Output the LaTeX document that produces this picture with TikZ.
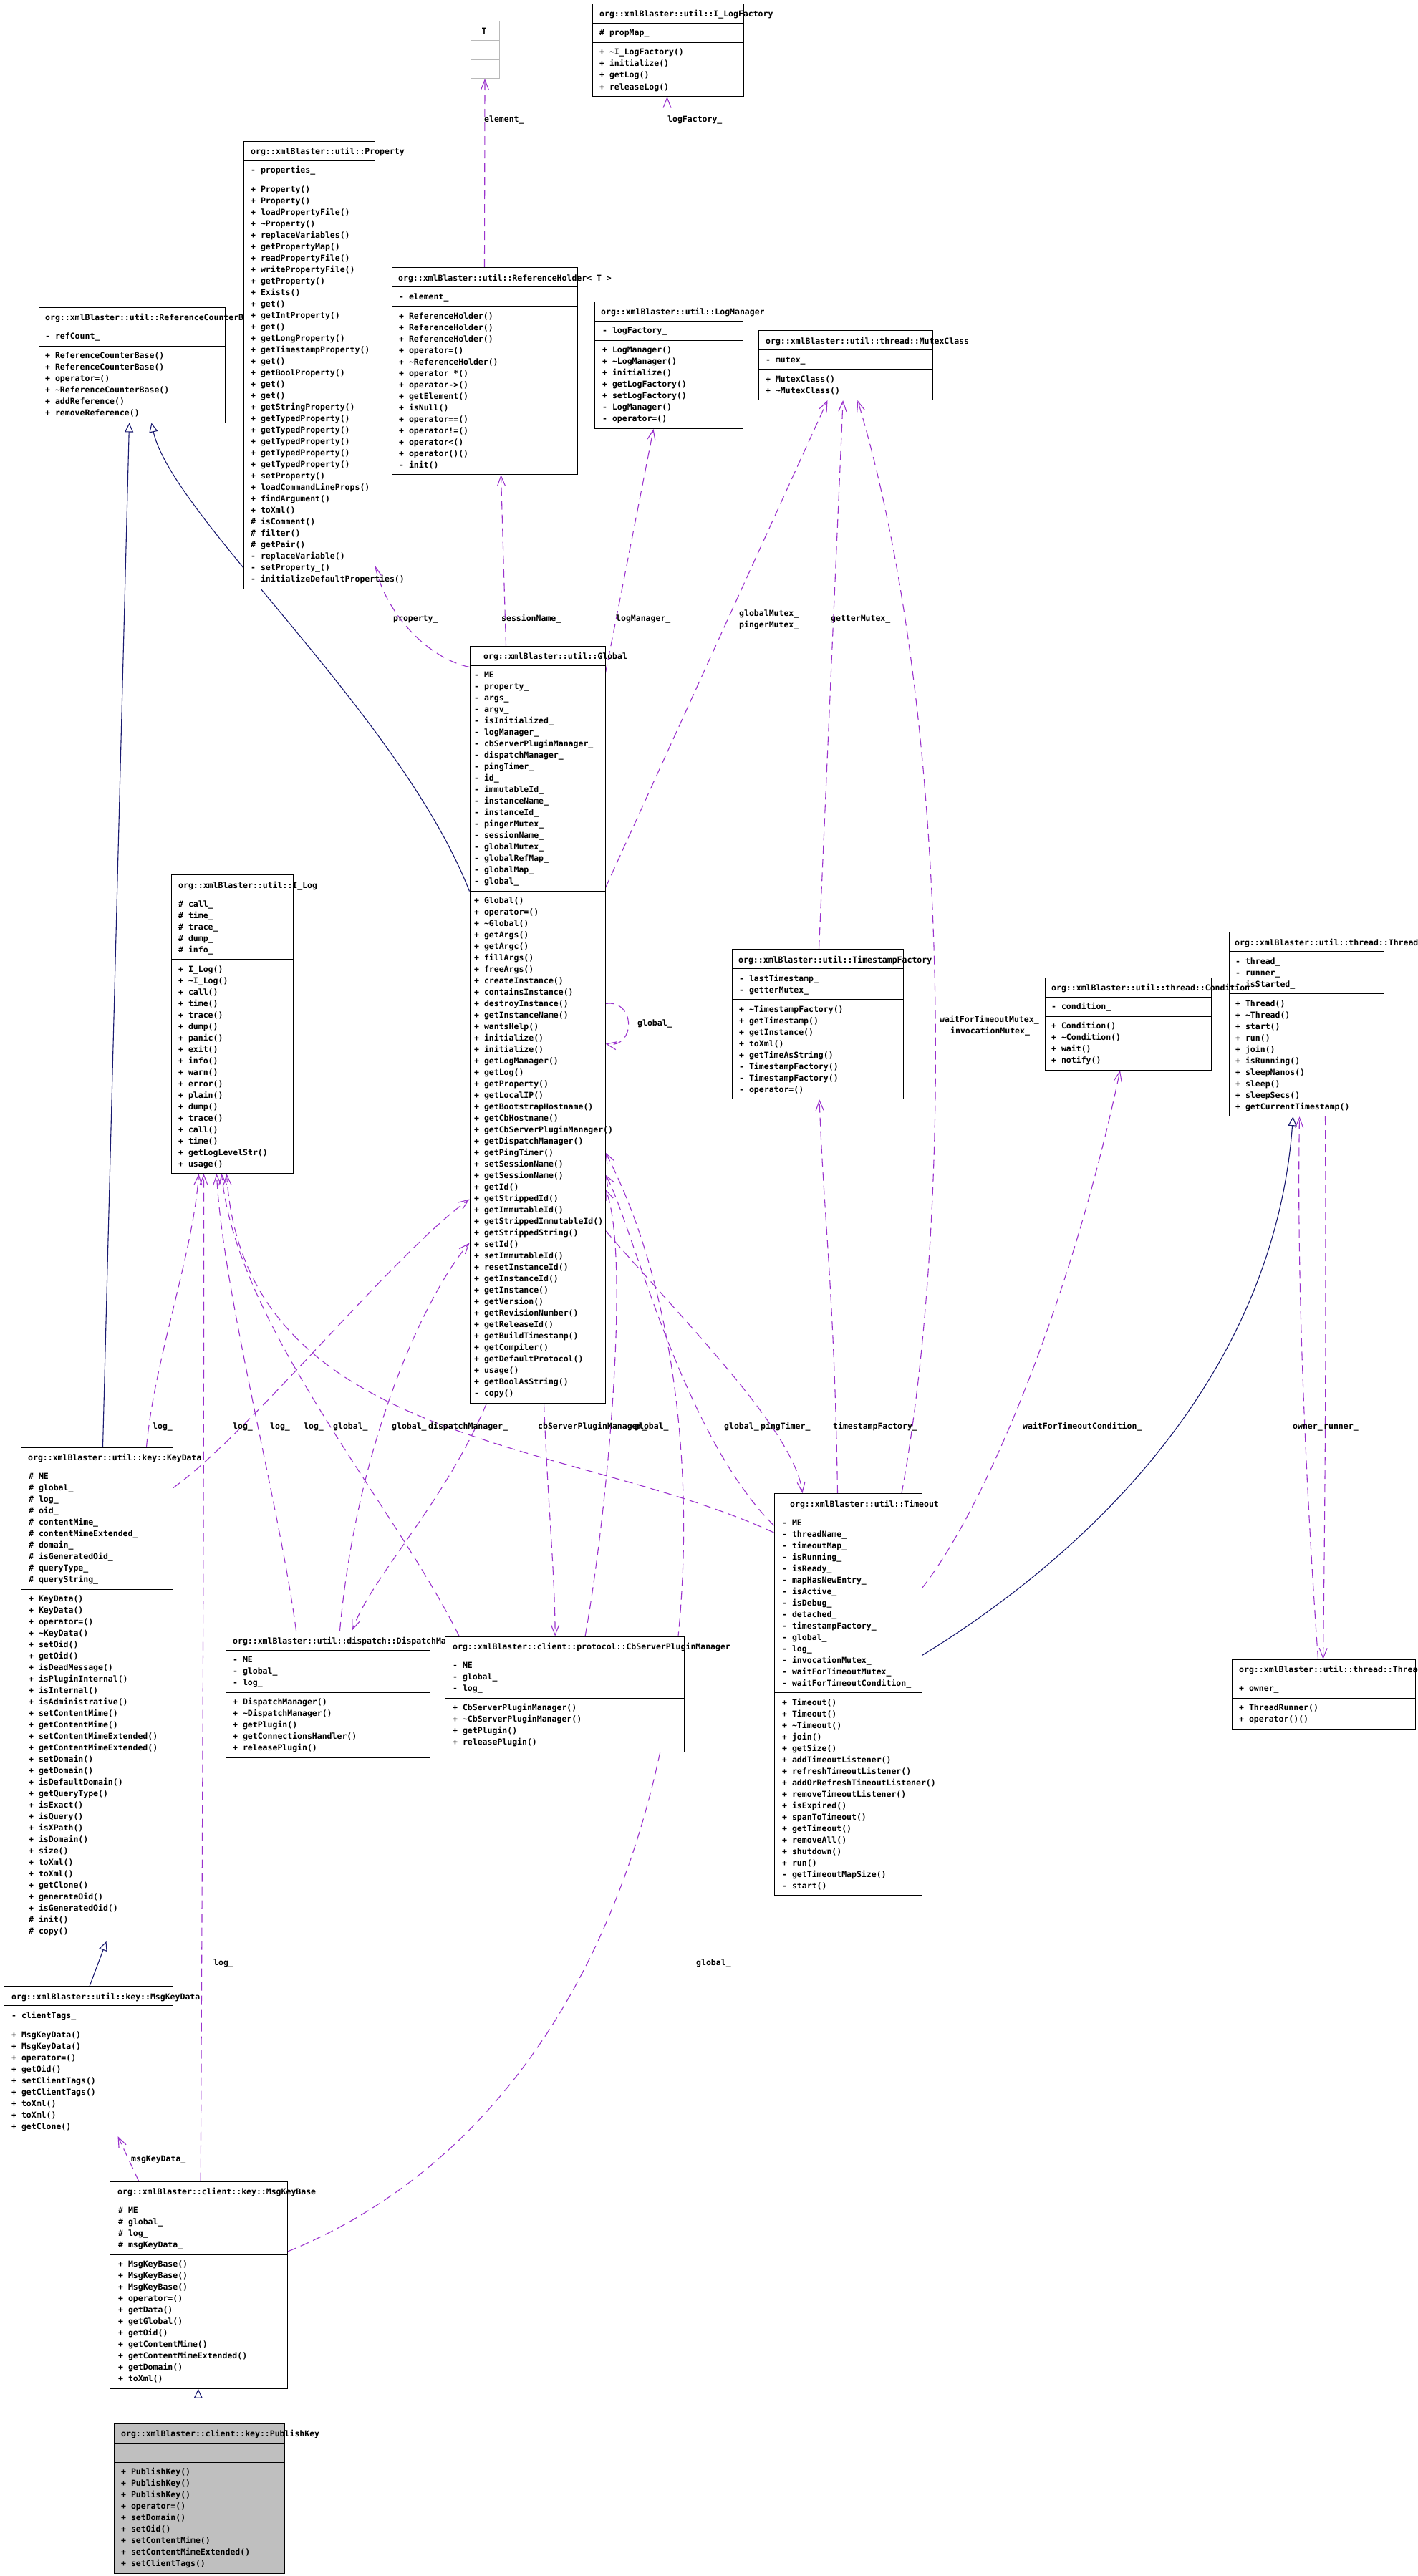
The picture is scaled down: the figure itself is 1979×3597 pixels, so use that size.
\documentclass[tikz,border=0pt]{standalone}
\usepackage{fontspec}
\newfontfamily\umlfont{DejaVu Sans Mono}
\usetikzlibrary{arrows.meta,fit,backgrounds}
\definecolor{usage}{HTML}{9A32CD}
\definecolor{inh}{HTML}{191970}
\definecolor{pkfill}{HTML}{BFBFBF}
\newcommand\tild{\textasciitilde}
\tikzset{
  umlbox/.style={draw=black,line width=1pt,inner sep=0pt,fill=white},
  sepline/.style={draw=black,line width=1pt},
  mtext/.style={anchor=west,inner sep=0pt,text height=8pt,text depth=0pt,
    font=\umlfont\bfseries\fontsize{11.5}{14}\selectfont},
  elabel/.style={mtext},
  uses/.style={draw=usage,line width=1.1pt,dash pattern=on 12pt off 7pt,
    -{Straight Barb[length=14pt,width=11pt]}},
  isa/.style={draw=inh,line width=1.1pt,-{Triangle[open,length=13pt,width=12pt]}},
}
\newcommand\umlbox[7]{%
  \pgfmathsetmacro\boxtop{#4}%
  \pgfmathsetmacro\sepA{#4+27}%
  \pgfmathsetmacro\sepB{\sepA+max(#5,1)*16+11}%
  \pgfmathsetmacro\boxbot{\sepB+max(#6,1)*16+11}%
  \node[umlbox,fill=#7,fit={(#2,#4) (#3,\boxbot)}] (#1) {};
  \draw[sepline] (#2,\sepA) -- (#3,\sepA);
  \draw[sepline] (#2,\sepB) -- (#3,\sepB);
}
\newcommand\umltitle[3]{\node[mtext] (#1-title) at (#2,\boxtop+14.5) {#3};}
\newcommand\umlattrs[3]{\foreach \txt [count=\idx from 0] in {#3} {\node[mtext] (#1-a\idx) at (#2,\sepA+13.5+16*\idx) {\txt};}}
\newcommand\umlmeths[3]{\foreach \txt [count=\idx from 0] in {#3} {\node[mtext] (#1-m\idx) at (#2,\sepB+13.5+16*\idx) {\txt};}}
\begin{document}
\begin{tikzpicture}[x=1pt,y=-1pt]
\useasboundingbox (0,0) rectangle (1979,3597);

% ---------- classes ----------
\umlbox{rcb}{54}{314}{429}{1}{6}{white}
\umltitle{rcb}{63}{org::xmlBlaster::util::ReferenceCounterBase}
\umlattrs{rcb}{63}{- refCount\_}
\umlmeths{rcb}{63}{+ ReferenceCounterBase(), + ReferenceCounterBase(), + operator=(), + \tild ReferenceCounterBase(), + addReference(), + removeReference()}

\umlbox{prop}{340}{523}{197}{1}{35}{white}
\umltitle{prop}{350}{org::xmlBlaster::util::Property}
\umlattrs{prop}{350}{- properties\_}
\umlmeths{prop}{350}{+ Property(), + Property(), + loadPropertyFile(), + \tild Property(), + replaceVariables(), + getPropertyMap(), + readPropertyFile(), + writePropertyFile(), + getProperty(), + Exists(), + get(), + getIntProperty(), + get(), + getLongProperty(), + getTimestampProperty(), + get(), + getBoolProperty(), + get(), + get(), + getStringProperty(), + getTypedProperty(), + getTypedProperty(), + getTypedProperty(), + getTypedProperty(), + getTypedProperty(), + setProperty(), + loadCommandLineProps(), + findArgument(), + toXml(), \# isComment(), \# filter(), \# getPair(), - replaceVariable(), - setProperty\_(), - initializeDefaultProperties()}

\node[umlbox,draw=gray!55,fit={(657,29.5) (697,109.5)}] (T) {};
\draw[draw=gray!55,line width=1pt] (657,56.3) -- (697,56.3);
\draw[draw=gray!55,line width=1pt] (657,83.4) -- (697,83.4);
\node[mtext] (T-title) at (672.5,43.5) {T};

\umlbox{ilf}{827}{1038}{5.5}{1}{4}{white}
\umltitle{ilf}{837}{org::xmlBlaster::util::I\_LogFactory}
\umlattrs{ilf}{837}{\# propMap\_}
\umlmeths{ilf}{837}{+ \tild I\_LogFactory(), + initialize(), + getLog(), + releaseLog()}

\umlbox{rh}{547}{806}{373.5}{1}{14}{white}
\umltitle{rh}{556}{org::xmlBlaster::util::ReferenceHolder< T >}
\umlattrs{rh}{557}{- element\_}
\umlmeths{rh}{557}{+ ReferenceHolder(), + ReferenceHolder(), + ReferenceHolder(), + operator=(), + \tild ReferenceHolder(), + operator *(), + operator->(), + getElement(), + isNull(), + operator==(), + operator!=(), + operator<(), + operator()(), - init()}

\umlbox{lm}{830}{1037}{421.4}{1}{7}{white}
\umltitle{lm}{839}{org::xmlBlaster::util::LogManager}
\umlattrs{lm}{841}{- logFactory\_}
\umlmeths{lm}{841}{+ LogManager(), + \tild LogManager(), + initialize(), + getLogFactory(), + setLogFactory(), - LogManager(), - operator=()}

\umlbox{mutex}{1059.6}{1302}{461.5}{1}{2}{white}
\umltitle{mutex}{1069}{org::xmlBlaster::util::thread::MutexClass}
\umlattrs{mutex}{1069}{- mutex\_}
\umlmeths{mutex}{1069}{+ MutexClass(), + \tild MutexClass()}

\umlbox{global}{656}{845}{902}{19}{44}{white}
\umltitle{global}{675}{org::xmlBlaster::util::Global}
\umlattrs{global}{662}{- ME, - property\_, - args\_, - argv\_, - isInitialized\_, - logManager\_, - cbServerPluginManager\_, - dispatchManager\_, - pingTimer\_, - id\_, - immutableId\_, - instanceName\_, - instanceId\_, - pingerMutex\_, - sessionName\_, - globalMutex\_, - globalRefMap\_, - globalMap\_, - global\_}
\umlmeths{global}{662}{+ Global(), + operator=(), + \tild Global(), + getArgs(), + getArgc(), + fillArgs(), + freeArgs(), + createInstance(), + containsInstance(), + destroyInstance(), + getInstanceName(), + wantsHelp(), + initialize(), + initialize(), + getLogManager(), + getLog(), + getProperty(), + getLocalIP(), + getBootstrapHostname(), + getCbHostname(), + getCbServerPluginManager(), + getDispatchManager(), + getPingTimer(), + setSessionName(), + getSessionName(), + getId(), + getStrippedId(), + getImmutableId(), + getStrippedImmutableId(), + getStrippedString(), + setId(), + setImmutableId(), + resetInstanceId(), + getInstanceId(), + getInstance(), + getVersion(), + getRevisionNumber(), + getReleaseId(), + getBuildTimestamp(), + getCompiler(), + getDefaultProtocol(), + usage(), + getBoolAsString(), - copy()}

\umlbox{ilog}{239}{409}{1221.7}{5}{18}{white}
\umltitle{ilog}{249}{org::xmlBlaster::util::I\_Log}
\umlattrs{ilog}{249}{\# call\_, \# time\_, \# trace\_, \# dump\_, \# info\_}
\umlmeths{ilog}{249}{+ I\_Log(), + \tild I\_Log(), + call(), + time(), + trace(), + dump(), + panic(), + exit(), + info(), + warn(), + error(), + plain(), + dump(), + trace(), + call(), + time(), + getLogLevelStr(), + usage()}

\umlbox{tsf}{1022}{1261}{1325.7}{2}{8}{white}
\umltitle{tsf}{1031}{org::xmlBlaster::util::TimestampFactory}
\umlattrs{tsf}{1032}{- lastTimestamp\_, - getterMutex\_}
\umlmeths{tsf}{1032}{+ \tild TimestampFactory(), + getTimestamp(), + getInstance(), + toXml(), + getTimeAsString(), - TimestampFactory(), - TimestampFactory(), - operator=()}

\umlbox{thread}{1716}{1932}{1301.7}{3}{10}{white}
\umltitle{thread}{1724}{org::xmlBlaster::util::thread::Thread}
\umlattrs{thread}{1725}{- thread\_, - runner\_, - isStarted\_}
\umlmeths{thread}{1725}{+ Thread(), + \tild Thread(), + start(), + run(), + join(), + isRunning(), + sleepNanos(), + sleep(), + sleepSecs(), + getCurrentTimestamp()}

\umlbox{cond}{1459.5}{1691.4}{1365.3}{1}{4}{white}
\umltitle{cond}{1468}{org::xmlBlaster::util::thread::Condition}
\umlattrs{cond}{1468}{- condition\_}
\umlmeths{cond}{1468}{+ Condition(), + \tild Condition(), + wait(), + notify()}

\umlbox{keydata}{29}{241}{2021.3}{10}{30}{white}
\umltitle{keydata}{39}{org::xmlBlaster::util::key::KeyData}
\umlattrs{keydata}{40}{\# ME, \# global\_, \# log\_, \# oid\_, \# contentMime\_, \# contentMimeExtended\_, \# domain\_, \# isGeneratedOid\_, \# queryType\_, \# queryString\_}
\umlmeths{keydata}{40}{+ KeyData(), + KeyData(), + operator=(), + \tild KeyData(), + setOid(), + getOid(), + isDeadMessage(), + isPluginInternal(), + isInternal(), + isAdministrative(), + setContentMime(), + getContentMime(), + setContentMimeExtended(), + getContentMimeExtended(), + setDomain(), + getDomain(), + isDefaultDomain(), + getQueryType(), + isExact(), + isQuery(), + isXPath(), + isDomain(), + size(), + toXml(), + toXml(), + getClone(), + generateOid(), + isGeneratedOid(), \# init(), \# copy()}

\umlbox{disp}{315}{600}{2277.3}{3}{5}{white}
\umltitle{disp}{325}{org::xmlBlaster::util::dispatch::DispatchManager}
\umlattrs{disp}{325}{- ME, - global\_, - log\_}
\umlmeths{disp}{325}{+ DispatchManager(), + \tild DispatchManager(), + getPlugin(), + getConnectionsHandler(), + releasePlugin()}

\umlbox{cbs}{621.6}{955.4}{2285}{3}{4}{white}
\umltitle{cbs}{632}{org::xmlBlaster::client::protocol::CbServerPluginManager}
\umlattrs{cbs}{632}{- ME, - global\_, - log\_}
\umlmeths{cbs}{632}{+ CbServerPluginManager(), + \tild CbServerPluginManager(), + getPlugin(), + releasePlugin()}

\umlbox{timeout}{1081}{1287}{2085.5}{15}{17}{white}
\umltitle{timeout}{1103}{org::xmlBlaster::util::Timeout}
\umlattrs{timeout}{1092}{- ME, - threadName\_, - timeoutMap\_, - isRunning\_, - isReady\_, - mapHasNewEntry\_, - isActive\_, - isDebug\_, - detached\_, - timestampFactory\_, - global\_, - log\_, - invocationMutex\_, - waitForTimeoutMutex\_, - waitForTimeoutCondition\_}
\umlmeths{timeout}{1092}{+ Timeout(), + Timeout(), + \tild Timeout(), + join(), + getSize(), + addTimeoutListener(), + refreshTimeoutListener(), + addOrRefreshTimeoutListener(), + removeTimeoutListener(), + isExpired(), + spanToTimeout(), + getTimeout(), + removeAll(), + shutdown(), + run(), - getTimeoutMapSize(), - start()}

\umlbox{trun}{1720}{1976}{2317.3}{1}{2}{white}
\umltitle{trun}{1730}{org::xmlBlaster::util::thread::ThreadRunner}
\umlattrs{trun}{1730}{+ owner\_}
\umlmeths{trun}{1730}{+ ThreadRunner(), + operator()()}

\umlbox{mkd}{5.7}{241.3}{2773.5}{1}{9}{white}
\umltitle{mkd}{16}{org::xmlBlaster::util::key::MsgKeyData}
\umlattrs{mkd}{16}{- clientTags\_}
\umlmeths{mkd}{16}{+ MsgKeyData(), + MsgKeyData(), + operator=(), + getOid(), + setClientTags(), + getClientTags(), + toXml(), + toXml(), + getClone()}

\umlbox{mkb}{153.3}{401.7}{3046.2}{4}{11}{white}
\umltitle{mkb}{164}{org::xmlBlaster::client::key::MsgKeyBase}
\umlattrs{mkb}{165}{\# ME, \# global\_, \# log\_, \# msgKeyData\_}
\umlmeths{mkb}{165}{+ MsgKeyBase(), + MsgKeyBase(), + MsgKeyBase(), + operator=(), + getData(), + getGlobal(), + getOid(), + getContentMime(), + getContentMimeExtended(), + getDomain(), + toXml()}

\umlbox{pk}{159.3}{397.3}{3384}{0}{9}{pkfill}
\umltitle{pk}{169}{org::xmlBlaster::client::key::PublishKey}
\umlmeths{pk}{169}{+ PublishKey(), + PublishKey(), + PublishKey(), + operator=(), + setDomain(), + setOid(), + setContentMime(), + setContentMimeExtended(), + setClientTags()}

% ---------- connectors ----------
\begin{pgfonlayer}{background}
\fill[white] (0,0) rectangle (1979,3597);
% inheritance
\draw[isa] ([xshift=115pt]keydata.north west) -- ([xshift=127pt]rcb.south west);
\draw[isa] ([yshift=-343pt]global.north west) .. controls (560,1000) and (240,720) .. ([xshift=158pt]rcb.south west);
\draw[isa] ([xshift=120pt]mkd.north west) -- ([xshift=120pt]keydata.south west);
\draw[isa] ([xshift=118pt]pk.north west) -- ([xshift=124pt]mkb.south west);
\draw[isa] ([yshift=-226.5pt]timeout.north east) .. controls (1550,2150) and (1780,1900) .. ([xshift=90pt]thread.south west);
% usage
\draw[uses] ([xshift=130pt]rh.north west) -- (T.south);
\draw[uses] ([xshift=102pt]lm.north west) -- ([xshift=105pt]ilf.south west);
\draw[uses] ([yshift=-30pt]global.north west) .. controls (600,920) and (540,860) .. ([yshift=-593pt]prop.north east);
\draw[uses] ([xshift=51pt]global.north west) -- ([xshift=153pt]rh.south west);
\draw[uses] ([yshift=-38pt]global.north east) -- ([xshift=83pt]lm.south west);
\draw[uses] ([yshift=-338pt]global.north east) -- ([xshift=96.4pt]mutex.south west);
\draw[uses] ([xshift=122pt]tsf.north west) -- ([xshift=118pt]mutex.south west);
\draw[uses] ([xshift=178.5pt]timeout.north west) .. controls (1330,1700) and (1330,1000) .. ([xshift=138.4pt]mutex.south west);
\draw[uses] ([yshift=-500pt]global.north east) .. controls (888,1395) and (888,1465) .. ([yshift=-556pt]global.north east);
\draw[uses] ([yshift=-817pt]global.north east) .. controls (960,1850) and (1110,2000) .. ([xshift=40pt]timeout.north west);
\draw[uses] ([xshift=24pt]global.south west) .. controls (620,2100) and (520,2200) .. ([xshift=177pt]disp.north west);
\draw[uses] ([xshift=104pt]global.south west) .. controls (765,2100) and (775,2200) .. ([xshift=154pt]cbs.north west);
\draw[uses] ([xshift=89pt]timeout.north west) .. controls (1165,1800) and (1150,1700) .. ([xshift=122.6pt]tsf.south west);
\draw[uses] ([yshift=-132.5pt]timeout.north east) .. controls (1380,2100) and (1500,1800) .. ([xshift=105pt]cond.south west);
\draw[uses] ([xshift=121pt]trun.north west) .. controls (1825,2100) and (1810,1800) .. ([xshift=99pt]thread.south west);
\draw[uses] ([xshift=135pt]thread.south west) .. controls (1852,1900) and (1850,2100) .. ([xshift=128pt]trun.north west);
% into I_Log
\draw[uses] ([xshift=176pt]keydata.north west) .. controls (215,1900) and (270,1750) .. ([xshift=39pt]ilog.south west);
\draw[uses] ([xshift=127.4pt]mkb.north west) .. controls (283,2500) and (285,2000) .. ([xshift=46pt]ilog.south west);
\draw[uses] ([xshift=99pt]disp.north west) .. controls (390,2100) and (310,1800) .. ([xshift=64pt]ilog.south west);
\draw[uses] ([xshift=20pt]cbs.north west) .. controls (550,2100) and (330,1850) .. ([xshift=71pt]ilog.south west);
\draw[uses] ([yshift=-55pt]timeout.north west) .. controls (800,2010) and (340,2020) .. ([xshift=78pt]ilog.south west);
% into Global
\draw[uses] ([yshift=-57pt]keydata.north east) .. controls (350,2000) and (550,1750) .. ([yshift=-773pt]global.north west);
\draw[uses] ([xshift=160pt]disp.north west) .. controls (500,2000) and (600,1800) .. ([yshift=-834pt]global.north west);
\draw[uses] ([xshift=196pt]cbs.north west) .. controls (850,2100) and (880,1750) .. ([yshift=-759pt]global.north east);
\draw[uses] ([yshift=-45pt]timeout.north west) .. controls (950,2000) and (880,1700) .. ([yshift=-739pt]global.north east);
\draw[uses] ([yshift=-98pt]mkb.north east) .. controls (1000,2900) and (1050,2000) .. ([yshift=-708pt]global.north east);
\draw[uses] ([xshift=41pt]mkb.north west) -- ([xshift=159.3pt]mkd.south west);
\end{pgfonlayer}

% ---------- connector labels ----------
\node[elabel] (l-element) at (676,167) {element\_};
\node[elabel] (l-logfactory) at (932,167) {logFactory\_};
\node[elabel] (l-property) at (549,863) {property\_};
\node[elabel] (l-session) at (700,863) {sessionName\_};
\node[elabel] (l-logmanager) at (860,863) {logManager\_};
\node[elabel] (l-gmutex) at (1032,856) {globalMutex\_};
\node[elabel] (l-pmutex) at (1032,872) {pingerMutex\_};
\node[elabel] (l-getter) at (1160,863) {getterMutex\_};
\node[elabel] (l-wtm) at (1312,1423) {waitForTimeoutMutex\_};
\node[elabel] (l-inv) at (1327,1439) {invocationMutex\_};
\node[elabel] (l-gself) at (890,1428) {global\_};
\node[elabel] (l-log1) at (213,1991) {log\_};
\node[elabel] (l-log2) at (325,1991) {log\_};
\node[elabel] (l-log3) at (377,1991) {log\_};
\node[elabel] (l-log4) at (424,1991) {log\_};
\node[elabel] (l-g1) at (465,1991) {global\_};
\node[elabel] (l-g2) at (547,1991) {global\_};
\node[elabel] (l-dm) at (598,1991) {dispatchManager\_};
\node[elabel] (l-cbs) at (751,1991) {cbServerPluginManager\_};
\node[elabel] (l-g3) at (885,1991) {global\_};
\node[elabel] (l-g4) at (1011,1991) {global\_};
\node[elabel] (l-ping) at (1062,1991) {pingTimer\_};
\node[elabel] (l-tsf) at (1163,1991) {timestampFactory\_};
\node[elabel] (l-wtc) at (1428,1991) {waitForTimeoutCondition\_};
\node[elabel] (l-owner) at (1805,1991) {owner\_};
\node[elabel] (l-runner) at (1848,1991) {runner\_};
\node[elabel] (l-log5) at (298,2740) {log\_};
\node[elabel] (l-g5) at (972,2740) {global\_};
\node[elabel] (l-mkd) at (183,3014) {msgKeyData\_};
\end{tikzpicture}
\end{document}
